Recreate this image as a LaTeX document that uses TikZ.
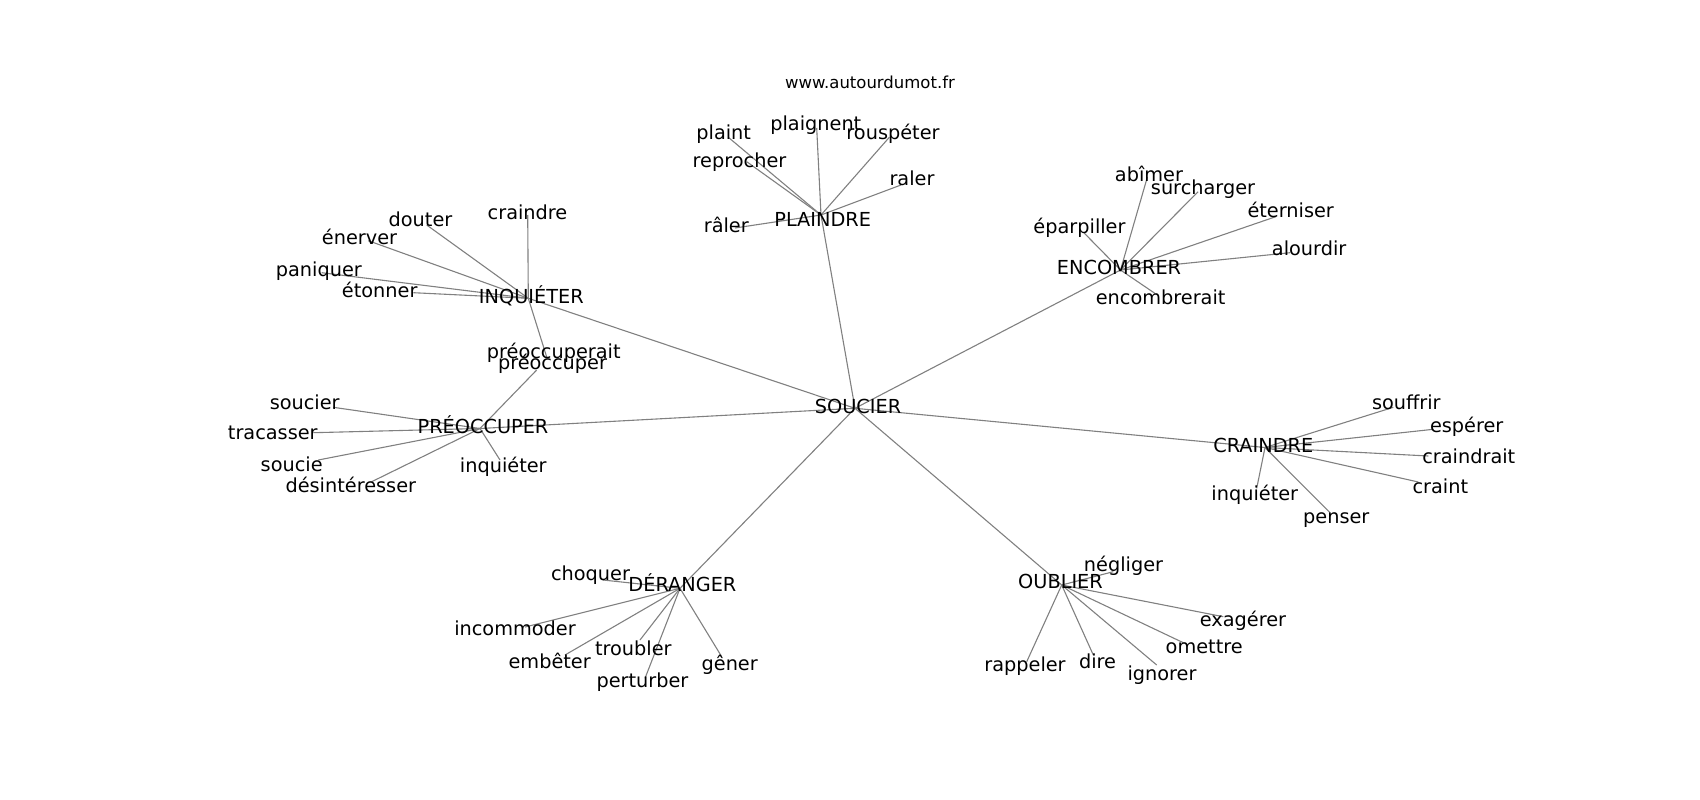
\documentclass[tikz,border=0pt]{standalone}
\usepackage{fontspec}
\setmainfont{DejaVu Sans}
\definecolor{edgegray}{RGB}{128,128,128}
\tikzset{
  edge/.style={draw=edgegray, line width=1.1pt},
  word/.style={anchor=base, inner sep=0pt, font=\fontsize{19.3}{23}\selectfont, text=black},
  site/.style={anchor=base, inner sep=0pt, font=\fontsize{16.5}{20}\selectfont, text=black}
}
\begin{document}
\begin{tikzpicture}[x=1pt,y=-1pt]
\useasboundingbox (0,0) rectangle (1700,800);
% graph vertices (edge end points)
\coordinate (SOUCIER) at (855,408.3);
\coordinate (INQ) at (528.3,298.3);
\coordinate (PREO) at (480,428.5);
\coordinate (PLAIN) at (821,215);
\coordinate (ENC) at (1120.5,270);
\coordinate (CRA) at (1265,447.5);
\coordinate (DER) at (680,588.3);
\coordinate (OUB) at (1061.7,585);
% PLAINDRE leaves
\coordinate (plaint) at (728.3,137.3);
\coordinate (plaignent) at (816.7,128);
\coordinate (rouspeter) at (889.3,137.3);
\coordinate (reprocher) at (746.7,161.7);
\coordinate (raler) at (901,185);
\coordinate (raler2) at (735,228);
% INQUIETER leaves
\coordinate (craindre) at (527.7,215);
\coordinate (douter) at (426.7,225);
\coordinate (enerver) at (368.3,240.7);
\coordinate (paniquer) at (321.7,272.7);
\coordinate (etonner) at (413.3,292.7);
\coordinate (preoccuperait) at (546.7,357);
% PREOCCUPER leaves
\coordinate (preoccuper) at (536.7,370);
\coordinate (soucier) at (333.3,407.3);
\coordinate (tracasser) at (313.3,432.7);
\coordinate (soucie) at (318.3,460);
\coordinate (desinteresser) at (371.7,481.7);
\coordinate (inquieterA) at (500,460);
% ENCOMBRER leaves
\coordinate (eparpiller) at (1084.4,233.3);
\coordinate (abimer) at (1147.3,177.3);
\coordinate (surcharger) at (1198.1,191.7);
\coordinate (eterniser) at (1275.7,216.7);
\coordinate (alourdir) at (1290.1,252.7);
\coordinate (encombrerait) at (1154.8,293.3);
% CRAINDRE leaves
\coordinate (souffrir) at (1393.3,407.3);
\coordinate (esperer) at (1433.3,429.3);
\coordinate (craindrait) at (1428.3,456);
\coordinate (craint) at (1418.3,482);
\coordinate (inquieterB) at (1256.7,488.3);
\coordinate (penser) at (1330,512.7);
% DERANGER leaves
\coordinate (choquer) at (603,580);
\coordinate (incommoder) at (525,627);
\coordinate (embeter) at (565,655);
\coordinate (troubler) at (640,640);
\coordinate (perturber) at (645,678.3);
\coordinate (gener) at (721.7,656.7);
% OUBLIER leaves
\coordinate (negliger) at (1113.3,571.7);
\coordinate (exagerer) at (1223.3,616.7);
\coordinate (omettre) at (1183.3,642.7);
\coordinate (ignorer) at (1156.7,665);
\coordinate (dire) at (1093.3,655);
\coordinate (rappeler) at (1026.7,661.7);

% edges
\foreach \a in {INQ,PREO,PLAIN,ENC,CRA,DER,OUB} \draw[edge] (SOUCIER) -- (\a);
\foreach \a in {plaint,plaignent,rouspeter,reprocher,raler,raler2} \draw[edge] (PLAIN) -- (\a);
\foreach \a in {craindre,douter,enerver,paniquer,etonner,preoccuperait} \draw[edge] (INQ) -- (\a);
\foreach \a in {preoccuper,soucier,tracasser,soucie,desinteresser,inquieterA} \draw[edge] (PREO) -- (\a);
\foreach \a in {eparpiller,abimer,surcharger,eterniser,alourdir,encombrerait} \draw[edge] (ENC) -- (\a);
\foreach \a in {souffrir,esperer,craindrait,craint,inquieterB,penser} \draw[edge] (CRA) -- (\a);
\foreach \a in {choquer,incommoder,embeter,troubler,perturber,gener} \draw[edge] (DER) -- (\a);
\foreach \a in {negliger,exagerer,omettre,ignorer,dire,rappeler} \draw[edge] (OUB) -- (\a);

% labels
\node[site] (site) at (870,88.3) {www.autourdumot.fr};
\node[word] (lSOUCIER) at (858,413.3) {SOUCIER};
\node[word] (lINQ) at (531.3,303.3) {INQUIÉTER};
\node[word] (lPREO) at (483,433.3) {PRÉOCCUPER};
\node[word] (lPLAIN) at (822.7,226.7) {PLAINDRE};
\node[word] (lENC) at (1119,274.3) {ENCOMBRER};
\node[word] (lCRA) at (1263.3,452.3) {CRAINDRE};
\node[word] (lDER) at (682.4,591) {DÉRANGER};
\node[word] (lOUB) at (1060.5,588.3) {OUBLIER};

\node[word] (lplaint) at (723.7,139.3) {plaint};
\node[word] (lplaignent) at (815.8,130.5) {plaignent};
\node[word] (lrouspeter) at (893,139.3) {rouspéter};
\node[word] (lreprocher) at (739.5,167.3) {reprocher};
\node[word] (lraler) at (912,185) {raler};
\node[word] (lraler2) at (726.3,232.6) {râler};

\node[word] (lcraindre) at (527.5,219.3) {craindre};
\node[word] (ldouter) at (420.5,226) {douter};
\node[word] (lenerver) at (359.5,244) {énerver};
\node[word] (lpaniquer) at (318.8,276) {paniquer};
\node[word] (letonner) at (379.7,297.3) {étonner};
\node[word] (lpreoccuperait) at (553.7,358.3) {préoccuperait};

\node[word] (lpreoccuper) at (552.5,369.3) {préoccuper};
\node[word] (lsoucier) at (304.7,409.3) {soucier};
\node[word] (ltracasser) at (272.8,439.3) {tracasser};
\node[word] (lsoucie) at (291.7,471.7) {soucie};
\node[word] (ldesinteresser) at (350.8,492.7) {désintéresser};
\node[word] (linquieterA) at (503.3,472.3) {inquiéter};

\node[word] (leparpiller) at (1079.5,233.3) {éparpiller};
\node[word] (labimer) at (1149,181.7) {abîmer};
\node[word] (lsurcharger) at (1203,194) {surcharger};
\node[word] (leterniser) at (1290.7,217.7) {éterniser};
\node[word] (lalourdir) at (1309.1,255) {alourdir};
\node[word] (lencombrerait) at (1160.6,304) {encombrerait};

\node[word] (lsouffrir) at (1406.3,409.3) {souffrir};
\node[word] (lesperer) at (1466.7,432.7) {espérer};
\node[word] (lcraindrait) at (1468.8,463.3) {craindrait};
\node[word] (lcraint) at (1440.3,493.3) {craint};
\node[word] (linquieterB) at (1254.8,500.7) {inquiéter};
\node[word] (lpenser) at (1336.3,523.3) {penser};

\node[word] (lchoquer) at (590.5,580.7) {choquer};
\node[word] (lincommoder) at (515,635) {incommoder};
\node[word] (lembeter) at (549.7,668.3) {embêter};
\node[word] (ltroubler) at (633.3,655) {troubler};
\node[word] (lperturber) at (642.5,687.3) {perturber};
\node[word] (lgener) at (729.7,670) {gêner};

\node[word] (lnegliger) at (1123.5,571.7) {négliger};
\node[word] (lexagerer) at (1243,626) {exagérer};
\node[word] (lomettre) at (1204.2,653.3) {omettre};
\node[word] (lignorer) at (1162,680) {ignorer};
\node[word] (ldire) at (1097.5,668.3) {dire};
\node[word] (lrappeler) at (1025,671.7) {rappeler};
\end{tikzpicture}
\end{document}
